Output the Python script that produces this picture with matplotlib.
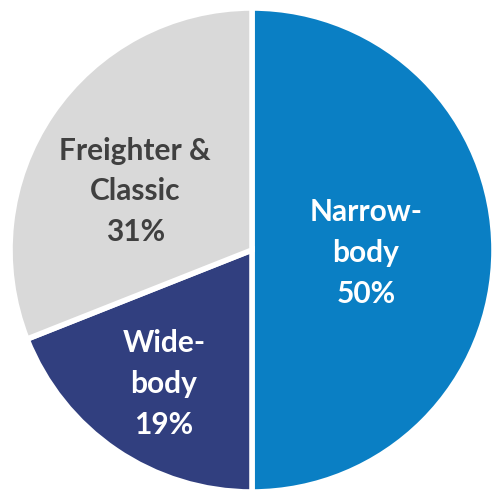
import matplotlib
matplotlib.use("Agg")
import matplotlib.pyplot as plt

# Fleet mix by aircraft category
categories = ["Narrow-\nbody", "Wide-\nbody", "Freighter &\nClassic"]
shares = [50, 19, 31]
colors = ["#0a7fc4", "#313f7f", "#d9d9d9"]
text_colors = ["white", "white", "#404040"]

fig = plt.figure(figsize=(4.93, 4.92), dpi=100)
ax = fig.add_axes([0, 0, 1, 1])

R = 242.0
cx, cy = 252.0, 250.0  # pixel centre, measured from top-left
wedges, _ = ax.pie(
    shares, colors=colors, startangle=90, counterclock=False, radius=1,
    wedgeprops=dict(edgecolor="white", linewidth=4),
)

# label offsets (in radius units) for each wedge
label_pos = [(0.471, -0.012), (-0.364, -0.554), (-0.483, 0.242)]
for cat, val, (lx, ly), tc in zip(categories, shares, label_pos, text_colors):
    ax.text(lx, ly, f"{cat}\n{val}%", ha="center", va="center", color=tc,
            fontsize=21.5, fontweight="bold", family=["Lato", "DejaVu Sans"],
            linespacing=1.55)

ax.set_xlim(-cx / R, (493 - cx) / R)
ax.set_ylim(-(492 - cy) / R, cy / R)
ax.set_aspect("auto")
ax.axis("off")
fig.savefig("out.png", dpi=100)
